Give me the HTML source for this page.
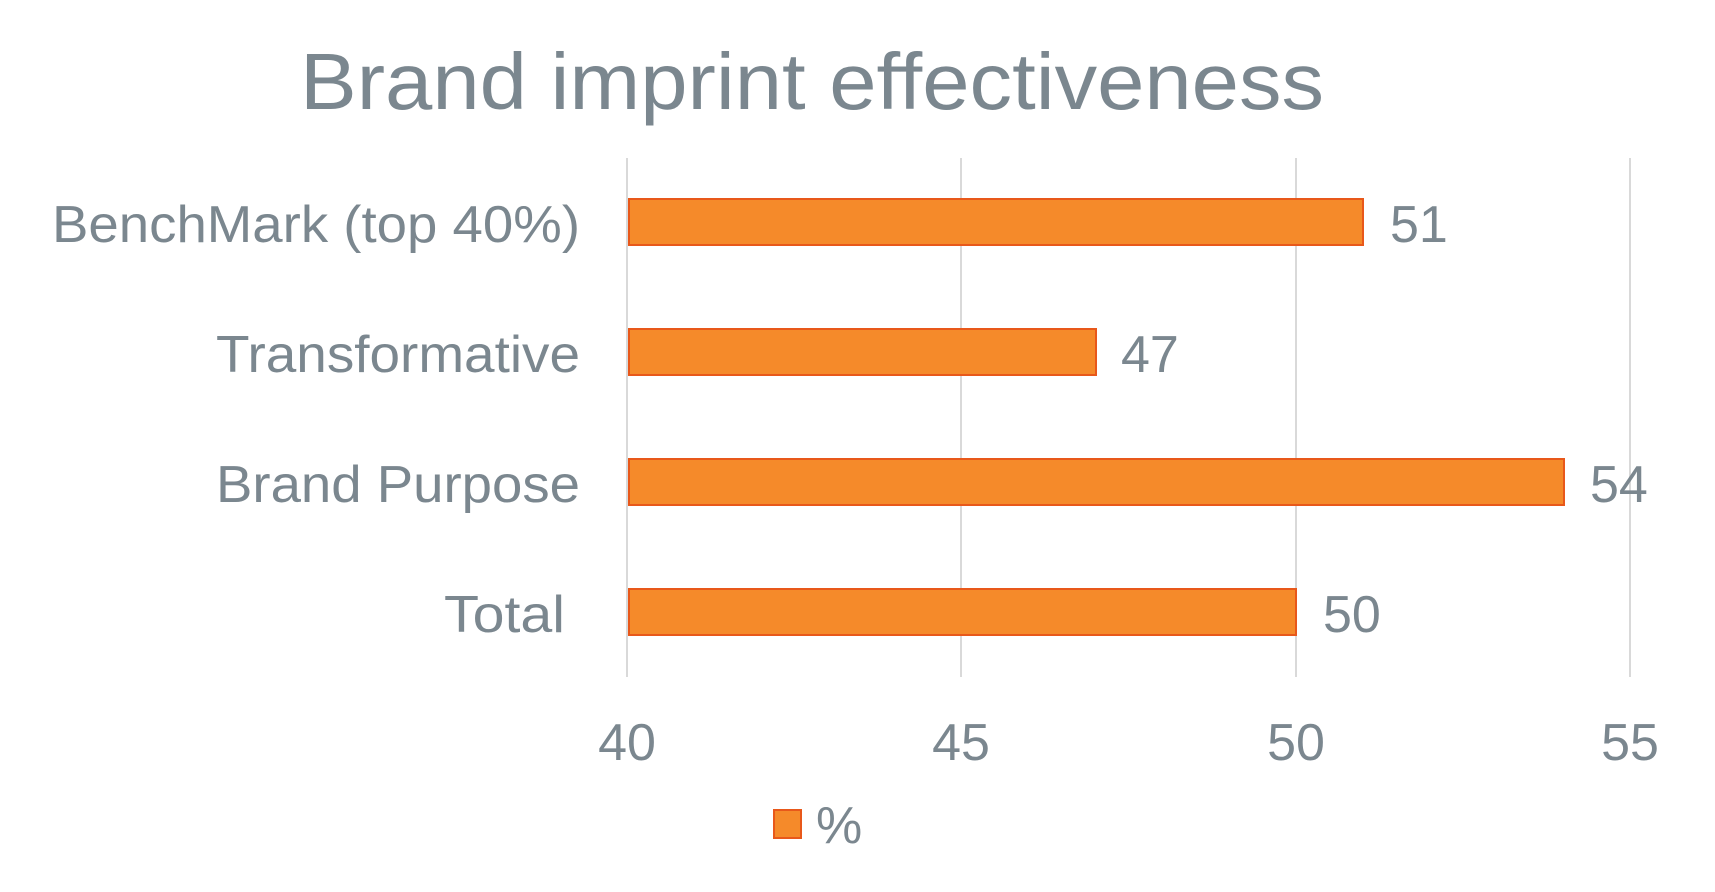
<!DOCTYPE html>
<html><head><style>html,body{margin:0;padding:0;background:#fff}</style></head><body>
<svg width="1715" height="887" viewBox="0 0 1715 887" xmlns="http://www.w3.org/2000/svg" font-family="Liberation Sans, sans-serif" fill="#7b878f">
<text x="812" y="109" font-size="80" text-anchor="middle" textLength="1024" lengthAdjust="spacingAndGlyphs">Brand imprint effectiveness</text>
<g stroke="#d9d9d9" stroke-width="2">
<line x1="627" y1="158" x2="627" y2="677"/><line x1="961" y1="158" x2="961" y2="677"/>
<line x1="1296" y1="158" x2="1296" y2="677"/><line x1="1630" y1="158" x2="1630" y2="677"/>
</g>
<g fill="#f58a2a" stroke="#e8581a" stroke-width="2">
<rect x="629" y="199" width="734" height="46"/>
<rect x="629" y="329" width="467" height="46"/>
<rect x="629" y="459" width="935" height="46"/>
<rect x="629" y="589" width="667" height="46"/>
</g>
<g font-size="52">
<text x="580" y="242" text-anchor="end" textLength="528" lengthAdjust="spacingAndGlyphs">BenchMark (top 40%)</text>
<text x="580" y="372" text-anchor="end" textLength="364" lengthAdjust="spacingAndGlyphs">Transformative</text>
<text x="580" y="502" text-anchor="end" textLength="364" lengthAdjust="spacingAndGlyphs">Brand Purpose</text>
<text x="565" y="632" text-anchor="end" textLength="121" lengthAdjust="spacingAndGlyphs">Total</text>
<text x="1390" y="242">51</text>
<text x="1121" y="372">47</text>
<text x="1590" y="502">54</text>
<text x="1323" y="632">50</text>
<text x="627" y="760" text-anchor="middle">40</text>
<text x="961" y="760" text-anchor="middle">45</text>
<text x="1296" y="760" text-anchor="middle">50</text>
<text x="1630" y="760" text-anchor="middle">55</text>
<text x="816" y="843">%</text>
</g>
<rect x="774" y="810" width="27" height="28" fill="#f58a2a" stroke="#e8581a" stroke-width="2"/>
</svg>
</body></html>
